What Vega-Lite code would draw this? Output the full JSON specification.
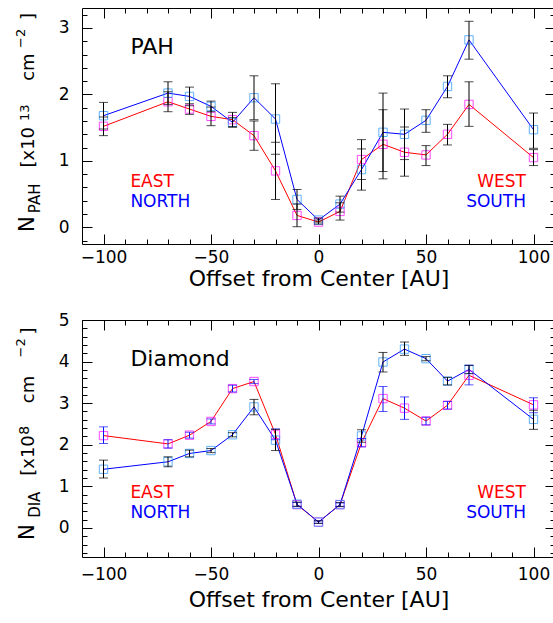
{
  "$schema": "https://vega.github.io/schema/vega-lite/v6.json",
  "background": "white",
  "padding": {"left": 14, "top": 7, "right": 0, "bottom": 0},
  "spacing": 20,
  "config": {
    "view": {"stroke": "black", "strokeWidth": 1},
    "font": "DejaVu Sans",
    "axis": {"domain": false, "grid": false, "tickColor": "black", "tickWidth": 1, "labelColor": "black", "labelFont": "DejaVu Sans", "labelFontSize": 17, "titleFont": "DejaVu Sans", "titleFontSize": 22, "titleFontWeight": "normal", "titleColor": "black", "labelFlush": false, "labelOverlap": false}
  },
  "datasets": {
    "pah": [
      {"cut": "EW", "offset": -100, "value": 1.52, "lo": 1.38, "hi": 1.66},
      {"cut": "EW", "offset": -70, "value": 1.89, "lo": 1.74, "hi": 2.04},
      {"cut": "EW", "offset": -60, "value": 1.78, "lo": 1.70, "hi": 1.86},
      {"cut": "EW", "offset": -50, "value": 1.67, "lo": 1.53, "hi": 1.81},
      {"cut": "EW", "offset": -40, "value": 1.62, "lo": 1.51, "hi": 1.73},
      {"cut": "EW", "offset": -30, "value": 1.38, "lo": 1.16, "hi": 1.60},
      {"cut": "EW", "offset": -20, "value": 0.85, "lo": 0.42, "hi": 1.28},
      {"cut": "EW", "offset": -10, "value": 0.18, "lo": 0.01, "hi": 0.35},
      {"cut": "EW", "offset": 0, "value": 0.08, "lo": 0.05, "hi": 0.11},
      {"cut": "EW", "offset": 10, "value": 0.24, "lo": 0.11, "hi": 0.37},
      {"cut": "EW", "offset": 20, "value": 1.02, "lo": 0.72, "hi": 1.32},
      {"cut": "EW", "offset": 30, "value": 1.25, "lo": 0.73, "hi": 1.77},
      {"cut": "EW", "offset": 40, "value": 1.13, "lo": 0.77, "hi": 1.51},
      {"cut": "EW", "offset": 50, "value": 1.09, "lo": 0.93, "hi": 1.23},
      {"cut": "EW", "offset": 60, "value": 1.40, "lo": 1.24, "hi": 1.55},
      {"cut": "EW", "offset": 70, "value": 1.85, "lo": 1.52, "hi": 2.19},
      {"cut": "EW", "offset": 100, "value": 1.05, "lo": 0.93, "hi": 1.17},
      {"cut": "NS", "offset": -100, "value": 1.68, "lo": 1.48, "hi": 1.88},
      {"cut": "NS", "offset": -70, "value": 2.02, "lo": 1.85, "hi": 2.19},
      {"cut": "NS", "offset": -60, "value": 1.97, "lo": 1.83, "hi": 2.11},
      {"cut": "NS", "offset": -50, "value": 1.82, "lo": 1.74, "hi": 1.90},
      {"cut": "NS", "offset": -40, "value": 1.58, "lo": 1.51, "hi": 1.65},
      {"cut": "NS", "offset": -30, "value": 1.95, "lo": 1.62, "hi": 2.28},
      {"cut": "NS", "offset": -20, "value": 1.63, "lo": 1.10, "hi": 2.16},
      {"cut": "NS", "offset": -10, "value": 0.42, "lo": 0.27, "hi": 0.57},
      {"cut": "NS", "offset": 0, "value": 0.11, "lo": 0.08, "hi": 0.14},
      {"cut": "NS", "offset": 10, "value": 0.35, "lo": 0.23, "hi": 0.47},
      {"cut": "NS", "offset": 20, "value": 0.87, "lo": 0.56, "hi": 1.18},
      {"cut": "NS", "offset": 30, "value": 1.43, "lo": 0.84, "hi": 2.02},
      {"cut": "NS", "offset": 40, "value": 1.40, "lo": 1.02, "hi": 1.78},
      {"cut": "NS", "offset": 50, "value": 1.61, "lo": 1.43, "hi": 1.77},
      {"cut": "NS", "offset": 60, "value": 2.12, "lo": 1.95, "hi": 2.28},
      {"cut": "NS", "offset": 70, "value": 2.82, "lo": 2.53, "hi": 3.10},
      {"cut": "NS", "offset": 100, "value": 1.47, "lo": 1.19, "hi": 1.72}
    ],
    "dia": [
      {"cut": "EW", "offset": -100, "value": 2.22, "lo": 2.03, "hi": 2.43},
      {"cut": "EW", "offset": -70, "value": 2.02, "lo": 1.92, "hi": 2.12},
      {"cut": "EW", "offset": -60, "value": 2.23, "lo": 2.16, "hi": 2.30},
      {"cut": "EW", "offset": -50, "value": 2.56, "lo": 2.50, "hi": 2.62},
      {"cut": "EW", "offset": -40, "value": 3.35, "lo": 3.27, "hi": 3.43},
      {"cut": "EW", "offset": -30, "value": 3.52, "lo": 3.47, "hi": 3.57},
      {"cut": "EW", "offset": -20, "value": 2.25, "lo": 2.12, "hi": 2.38},
      {"cut": "EW", "offset": -10, "value": 0.56, "lo": 0.51, "hi": 0.61},
      {"cut": "EW", "offset": 0, "value": 0.14, "lo": 0.11, "hi": 0.17},
      {"cut": "EW", "offset": 10, "value": 0.56, "lo": 0.52, "hi": 0.60},
      {"cut": "EW", "offset": 20, "value": 2.05, "lo": 1.95, "hi": 2.15},
      {"cut": "EW", "offset": 30, "value": 3.11, "lo": 2.80, "hi": 3.40},
      {"cut": "EW", "offset": 40, "value": 2.88, "lo": 2.61, "hi": 3.15},
      {"cut": "EW", "offset": 50, "value": 2.57, "lo": 2.48, "hi": 2.66},
      {"cut": "EW", "offset": 60, "value": 2.95, "lo": 2.86, "hi": 3.04},
      {"cut": "EW", "offset": 70, "value": 3.67, "lo": 3.44, "hi": 3.91},
      {"cut": "EW", "offset": 100, "value": 2.96, "lo": 2.77, "hi": 3.13},
      {"cut": "NS", "offset": -100, "value": 1.41, "lo": 1.20, "hi": 1.63},
      {"cut": "NS", "offset": -70, "value": 1.59, "lo": 1.47, "hi": 1.71},
      {"cut": "NS", "offset": -60, "value": 1.79, "lo": 1.71, "hi": 1.87},
      {"cut": "NS", "offset": -50, "value": 1.86, "lo": 1.81, "hi": 1.91},
      {"cut": "NS", "offset": -40, "value": 2.24, "lo": 2.19, "hi": 2.29},
      {"cut": "NS", "offset": -30, "value": 2.91, "lo": 2.72, "hi": 3.09},
      {"cut": "NS", "offset": -20, "value": 2.11, "lo": 1.86, "hi": 2.37},
      {"cut": "NS", "offset": -10, "value": 0.57, "lo": 0.52, "hi": 0.62},
      {"cut": "NS", "offset": 0, "value": 0.14, "lo": 0.11, "hi": 0.17},
      {"cut": "NS", "offset": 10, "value": 0.56, "lo": 0.51, "hi": 0.61},
      {"cut": "NS", "offset": 20, "value": 2.21, "lo": 2.06, "hi": 2.36},
      {"cut": "NS", "offset": 30, "value": 3.99, "lo": 3.75, "hi": 4.22},
      {"cut": "NS", "offset": 40, "value": 4.30, "lo": 4.15, "hi": 4.47},
      {"cut": "NS", "offset": 50, "value": 4.07, "lo": 4.02, "hi": 4.12},
      {"cut": "NS", "offset": 60, "value": 3.53, "lo": 3.44, "hi": 3.62},
      {"cut": "NS", "offset": 70, "value": 3.81, "lo": 3.71, "hi": 3.91},
      {"cut": "NS", "offset": 100, "value": 2.61, "lo": 2.37, "hi": 2.83}
    ]
  },
  "vconcat": [
    {
      "width": 473,
      "height": 236,
      "data": {"name": "pah"},
      "resolve": {"axis": {"x": "independent", "y": "independent"}, "scale": {"color": "independent"}},
      "layer": [
        {
          "mark": {"type": "line", "strokeWidth": 1},
          "encoding": {
            "x": {"field": "offset", "type": "quantitative", "scale": {"domain": [-110, 110], "nice": false, "zero": false}, "axis": {"orient": "bottom", "values": [-100, -50, 0, 50, 100], "tickSize": -10, "labelPadding": 15, "title": "Offset from Center [AU]", "titlePadding": 3}},
            "y": {"field": "value", "type": "quantitative", "scale": {"domain": [-0.25, 3.3], "nice": false, "zero": false}, "axis": {"orient": "left", "values": [0, 1, 2, 3], "tickSize": -10, "labelPadding": 23, "title": null}},
            "color": {"field": "cut", "type": "nominal", "scale": {"domain": ["EW", "NS"], "range": ["#ff0000", "#0000ff"]}, "legend": null}
          }
        },
        {
          "mark": {"type": "point", "shape": "square", "filled": false, "size": 70, "strokeWidth": 1},
          "encoding": {
            "x": {"field": "offset", "type": "quantitative", "scale": {"domain": [-110, 110], "nice": false, "zero": false}, "axis": null},
            "y": {"field": "value", "type": "quantitative", "scale": {"domain": [-0.25, 3.3], "nice": false, "zero": false}, "axis": null},
            "color": {"field": "cut", "type": "nominal", "scale": {"domain": ["EW", "NS"], "range": ["#ff00ff", "#1e90ff"]}, "legend": null}
          }
        },
        {
          "mark": {"type": "rule", "strokeWidth": 1, "color": "black"},
          "encoding": {
            "x": {"field": "offset", "type": "quantitative", "scale": {"domain": [-110, 110], "nice": false, "zero": false}, "axis": {"orient": "top", "values": [-100, -50, 0, 50, 100], "tickSize": -10, "labels": false, "title": null}},
            "y": {"field": "lo", "type": "quantitative", "scale": {"domain": [-0.25, 3.3], "nice": false, "zero": false}, "axis": {"orient": "right", "values": [0, 1, 2, 3], "tickSize": -10, "labels": false, "title": null}},
            "y2": {"field": "hi"}
          }
        },
        {
          "mark": {"type": "tick", "orient": "horizontal", "size": 9, "thickness": 1, "color": "black"},
          "encoding": {
            "x": {"field": "offset", "type": "quantitative", "scale": {"domain": [-110, 110], "nice": false, "zero": false}, "axis": {"orient": "bottom", "values": [-100, -90, -80, -70, -60, -50, -40, -30, -20, -10, 0, 10, 20, 30, 40, 50, 60, 70, 80, 90, 100], "tickSize": -5, "labels": false, "title": null}},
            "y": {"field": "lo", "type": "quantitative", "scale": {"domain": [-0.25, 3.3], "nice": false, "zero": false}, "axis": {"orient": "left", "values": [-0.2, 0, 0.2, 0.4, 0.6, 0.8, 1, 1.2, 1.4, 1.6, 1.8, 2, 2.2, 2.4, 2.6, 2.8, 3, 3.2], "tickSize": -5, "labels": false, "title": null}}
          }
        },
        {
          "mark": {"type": "tick", "orient": "horizontal", "size": 9, "thickness": 1, "color": "black"},
          "encoding": {
            "x": {"field": "offset", "type": "quantitative", "scale": {"domain": [-110, 110], "nice": false, "zero": false}, "axis": {"orient": "top", "values": [-100, -90, -80, -70, -60, -50, -40, -30, -20, -10, 0, 10, 20, 30, 40, 50, 60, 70, 80, 90, 100], "tickSize": -5, "labels": false, "title": null}},
            "y": {"field": "hi", "type": "quantitative", "scale": {"domain": [-0.25, 3.3], "nice": false, "zero": false}, "axis": {"orient": "right", "values": [-0.2, 0, 0.2, 0.4, 0.6, 0.8, 1, 1.2, 1.4, 1.6, 1.8, 2, 2.2, 2.4, 2.6, 2.8, 3, 3.2], "tickSize": -5, "labels": false, "title": null}}
          }
        },
        {
          "data": {"values": [{}]},
          "mark": {"type": "text", "text": "PAH", "fontSize": 22, "align": "left", "baseline": "alphabetic", "color": "black"},
          "encoding": {"x": {"datum": -87.5, "type": "quantitative", "axis": null}, "y": {"datum": 2.61, "type": "quantitative", "axis": null}}
        },
        {
          "data": {"values": [{}]},
          "mark": {"type": "text", "text": "EAST", "fontSize": 17, "align": "left", "baseline": "alphabetic", "color": "#ff0000"},
          "encoding": {"x": {"datum": -87.5, "type": "quantitative", "axis": null}, "y": {"datum": 0.6, "type": "quantitative", "axis": null}}
        },
        {
          "data": {"values": [{}]},
          "mark": {"type": "text", "text": "NORTH", "fontSize": 17, "align": "left", "baseline": "alphabetic", "color": "#0000ff"},
          "encoding": {"x": {"datum": -87.5, "type": "quantitative", "axis": null}, "y": {"datum": 0.3, "type": "quantitative", "axis": null}}
        },
        {
          "data": {"values": [{}]},
          "mark": {"type": "text", "text": "WEST", "fontSize": 17, "align": "right", "baseline": "alphabetic", "color": "#ff0000"},
          "encoding": {"x": {"datum": 96.5, "type": "quantitative", "axis": null}, "y": {"datum": 0.6, "type": "quantitative", "axis": null}}
        },
        {
          "data": {"values": [{}]},
          "mark": {"type": "text", "text": "SOUTH", "fontSize": 17, "align": "right", "baseline": "alphabetic", "color": "#0000ff"},
          "encoding": {"x": {"datum": 96.5, "type": "quantitative", "axis": null}, "y": {"datum": 0.3, "type": "quantitative", "axis": null}}
        },
        {
          "data": {"values": [{}]},
          "mark": {"type": "text", "text": "N", "fontSize": 21, "angle": 270, "align": "left", "baseline": "alphabetic", "color": "black"},
          "encoding": {"x": {"datum": -132.5, "type": "quantitative", "axis": null}, "y": {"datum": -0.07, "type": "quantitative", "axis": null}}
        },
        {
          "data": {"values": [{}]},
          "mark": {"type": "text", "text": "PAH", "fontSize": 15, "angle": 270, "align": "left", "baseline": "alphabetic", "color": "black"},
          "encoding": {"x": {"datum": -129.7, "type": "quantitative", "axis": null}, "y": {"datum": 0.214, "type": "quantitative", "axis": null}}
        },
        {
          "data": {"values": [{}]},
          "mark": {"type": "text", "text": "[x10", "fontSize": 18, "angle": 270, "align": "left", "baseline": "alphabetic", "color": "black"},
          "encoding": {"x": {"datum": -132.5, "type": "quantitative", "axis": null}, "y": {"datum": 0.9, "type": "quantitative", "axis": null}}
        },
        {
          "data": {"values": [{}]},
          "mark": {"type": "text", "text": "13", "fontSize": 13, "angle": 270, "align": "left", "baseline": "alphabetic", "color": "black"},
          "encoding": {"x": {"datum": -134.8, "type": "quantitative", "axis": null}, "y": {"datum": 1.6, "type": "quantitative", "axis": null}}
        },
        {
          "data": {"values": [{}]},
          "mark": {"type": "text", "text": "cm", "fontSize": 18, "angle": 270, "align": "left", "baseline": "alphabetic", "color": "black"},
          "encoding": {"x": {"datum": -132.5, "type": "quantitative", "axis": null}, "y": {"datum": 2.205, "type": "quantitative", "axis": null}}
        },
        {
          "data": {"values": [{}]},
          "mark": {"type": "text", "text": "−2", "fontSize": 13, "angle": 270, "align": "left", "baseline": "alphabetic", "color": "black"},
          "encoding": {"x": {"datum": -136.7, "type": "quantitative", "axis": null}, "y": {"datum": 2.7, "type": "quantitative", "axis": null}}
        },
        {
          "data": {"values": [{}]},
          "mark": {"type": "text", "text": "]", "fontSize": 18, "angle": 270, "align": "left", "baseline": "alphabetic", "color": "black"},
          "encoding": {"x": {"datum": -132.5, "type": "quantitative", "axis": null}, "y": {"datum": 3.12, "type": "quantitative", "axis": null}}
        }
      ]
    },
    {
      "width": 473,
      "height": 237,
      "data": {"name": "dia"},
      "resolve": {"axis": {"x": "independent", "y": "independent"}, "scale": {"color": "independent"}},
      "layer": [
        {
          "mark": {"type": "line", "strokeWidth": 1},
          "encoding": {
            "x": {"field": "offset", "type": "quantitative", "scale": {"domain": [-110, 110], "nice": false, "zero": false}, "axis": {"orient": "bottom", "values": [-100, -50, 0, 50, 100], "tickSize": -10, "labelPadding": 19, "title": "Offset from Center [AU]", "titlePadding": 7}},
            "y": {"field": "value", "type": "quantitative", "scale": {"domain": [-0.7, 5], "nice": false, "zero": false}, "axis": {"orient": "left", "values": [0, 1, 2, 3, 4, 5], "tickSize": -10, "labelPadding": 23, "title": null}},
            "color": {"field": "cut", "type": "nominal", "scale": {"domain": ["EW", "NS"], "range": ["#ff0000", "#0000ff"]}, "legend": null}
          }
        },
        {
          "mark": {"type": "point", "shape": "square", "filled": false, "size": 70, "strokeWidth": 1},
          "encoding": {
            "x": {"field": "offset", "type": "quantitative", "scale": {"domain": [-110, 110], "nice": false, "zero": false}, "axis": null},
            "y": {"field": "value", "type": "quantitative", "scale": {"domain": [-0.7, 5], "nice": false, "zero": false}, "axis": null},
            "color": {"field": "cut", "type": "nominal", "scale": {"domain": ["EW", "NS"], "range": ["#ff00ff", "#1e90ff"]}, "legend": null}
          }
        },
        {
          "mark": {"type": "rule", "strokeWidth": 1},
          "encoding": {
            "x": {"field": "offset", "type": "quantitative", "scale": {"domain": [-110, 110], "nice": false, "zero": false}, "axis": {"orient": "top", "values": [-100, -50, 0, 50, 100], "tickSize": -10, "labels": false, "title": null}},
            "y": {"field": "lo", "type": "quantitative", "scale": {"domain": [-0.7, 5], "nice": false, "zero": false}, "axis": {"orient": "right", "values": [0, 1, 2, 3, 4, 5], "tickSize": -10, "labels": false, "title": null}},
            "y2": {"field": "hi"},
            "color": {"field": "cut", "type": "nominal", "scale": {"domain": ["EW", "NS"], "range": ["#1010ff", "#000000"]}, "legend": null}
          }
        },
        {
          "mark": {"type": "tick", "orient": "horizontal", "size": 9, "thickness": 1},
          "encoding": {
            "x": {"field": "offset", "type": "quantitative", "scale": {"domain": [-110, 110], "nice": false, "zero": false}, "axis": {"orient": "bottom", "values": [-100, -90, -80, -70, -60, -50, -40, -30, -20, -10, 0, 10, 20, 30, 40, 50, 60, 70, 80, 90, 100], "tickSize": -5, "labels": false, "title": null}},
            "y": {"field": "lo", "type": "quantitative", "scale": {"domain": [-0.7, 5], "nice": false, "zero": false}, "axis": {"orient": "left", "values": [-0.6, -0.4, -0.2, 0, 0.2, 0.4, 0.6, 0.8, 1, 1.2, 1.4, 1.6, 1.8, 2, 2.2, 2.4, 2.6, 2.8, 3, 3.2, 3.4, 3.6, 3.8, 4, 4.2, 4.4, 4.6, 4.8, 5], "tickSize": -5, "labels": false, "title": null}},
            "color": {"field": "cut", "type": "nominal", "scale": {"domain": ["EW", "NS"], "range": ["#1010ff", "#000000"]}, "legend": null}
          }
        },
        {
          "mark": {"type": "tick", "orient": "horizontal", "size": 9, "thickness": 1},
          "encoding": {
            "x": {"field": "offset", "type": "quantitative", "scale": {"domain": [-110, 110], "nice": false, "zero": false}, "axis": {"orient": "top", "values": [-100, -90, -80, -70, -60, -50, -40, -30, -20, -10, 0, 10, 20, 30, 40, 50, 60, 70, 80, 90, 100], "tickSize": -5, "labels": false, "title": null}},
            "y": {"field": "hi", "type": "quantitative", "scale": {"domain": [-0.7, 5], "nice": false, "zero": false}, "axis": {"orient": "right", "values": [-0.6, -0.4, -0.2, 0, 0.2, 0.4, 0.6, 0.8, 1, 1.2, 1.4, 1.6, 1.8, 2, 2.2, 2.4, 2.6, 2.8, 3, 3.2, 3.4, 3.6, 3.8, 4, 4.2, 4.4, 4.6, 4.8, 5], "tickSize": -5, "labels": false, "title": null}},
            "color": {"field": "cut", "type": "nominal", "scale": {"domain": ["EW", "NS"], "range": ["#1010ff", "#000000"]}, "legend": null}
          }
        },
        {
          "data": {"values": [{}]},
          "mark": {"type": "text", "text": "Diamond", "fontSize": 22, "align": "left", "baseline": "alphabetic", "color": "black"},
          "encoding": {"x": {"datum": -87.5, "type": "quantitative", "axis": null}, "y": {"datum": 3.9, "type": "quantitative", "axis": null}}
        },
        {
          "data": {"values": [{}]},
          "mark": {"type": "text", "text": "EAST", "fontSize": 17, "align": "left", "baseline": "alphabetic", "color": "#ff0000"},
          "encoding": {"x": {"datum": -87.5, "type": "quantitative", "axis": null}, "y": {"datum": 0.72, "type": "quantitative", "axis": null}}
        },
        {
          "data": {"values": [{}]},
          "mark": {"type": "text", "text": "NORTH", "fontSize": 17, "align": "left", "baseline": "alphabetic", "color": "#0000ff"},
          "encoding": {"x": {"datum": -87.5, "type": "quantitative", "axis": null}, "y": {"datum": 0.24, "type": "quantitative", "axis": null}}
        },
        {
          "data": {"values": [{}]},
          "mark": {"type": "text", "text": "WEST", "fontSize": 17, "align": "right", "baseline": "alphabetic", "color": "#ff0000"},
          "encoding": {"x": {"datum": 96.5, "type": "quantitative", "axis": null}, "y": {"datum": 0.72, "type": "quantitative", "axis": null}}
        },
        {
          "data": {"values": [{}]},
          "mark": {"type": "text", "text": "SOUTH", "fontSize": 17, "align": "right", "baseline": "alphabetic", "color": "#0000ff"},
          "encoding": {"x": {"datum": 96.5, "type": "quantitative", "axis": null}, "y": {"datum": 0.24, "type": "quantitative", "axis": null}}
        },
        {
          "data": {"values": [{}]},
          "mark": {"type": "text", "text": "N", "fontSize": 21, "angle": 270, "align": "left", "baseline": "alphabetic", "color": "black"},
          "encoding": {"x": {"datum": -132.5, "type": "quantitative", "axis": null}, "y": {"datum": -0.289, "type": "quantitative", "axis": null}}
        },
        {
          "data": {"values": [{}]},
          "mark": {"type": "text", "text": "DIA", "fontSize": 15, "angle": 270, "align": "left", "baseline": "alphabetic", "color": "black"},
          "encoding": {"x": {"datum": -129.7, "type": "quantitative", "axis": null}, "y": {"datum": 0.241, "type": "quantitative", "axis": null}}
        },
        {
          "data": {"values": [{}]},
          "mark": {"type": "text", "text": "[x10", "fontSize": 18, "angle": 270, "align": "left", "baseline": "alphabetic", "color": "black"},
          "encoding": {"x": {"datum": -132.5, "type": "quantitative", "axis": null}, "y": {"datum": 1.253, "type": "quantitative", "axis": null}}
        },
        {
          "data": {"values": [{}]},
          "mark": {"type": "text", "text": "8", "fontSize": 14, "angle": 270, "align": "left", "baseline": "alphabetic", "color": "black"},
          "encoding": {"x": {"datum": -134.8, "type": "quantitative", "axis": null}, "y": {"datum": 2.24, "type": "quantitative", "axis": null}}
        },
        {
          "data": {"values": [{}]},
          "mark": {"type": "text", "text": "cm", "fontSize": 18, "angle": 270, "align": "left", "baseline": "alphabetic", "color": "black"},
          "encoding": {"x": {"datum": -132.5, "type": "quantitative", "axis": null}, "y": {"datum": 3.0, "type": "quantitative", "axis": null}}
        },
        {
          "data": {"values": [{}]},
          "mark": {"type": "text", "text": "−2", "fontSize": 13, "angle": 270, "align": "left", "baseline": "alphabetic", "color": "black"},
          "encoding": {"x": {"datum": -136.7, "type": "quantitative", "axis": null}, "y": {"datum": 4.1, "type": "quantitative", "axis": null}}
        },
        {
          "data": {"values": [{}]},
          "mark": {"type": "text", "text": "]", "fontSize": 18, "angle": 270, "align": "left", "baseline": "alphabetic", "color": "black"},
          "encoding": {"x": {"datum": -132.5, "type": "quantitative", "axis": null}, "y": {"datum": 4.65, "type": "quantitative", "axis": null}}
        }
      ]
    }
  ]
}
